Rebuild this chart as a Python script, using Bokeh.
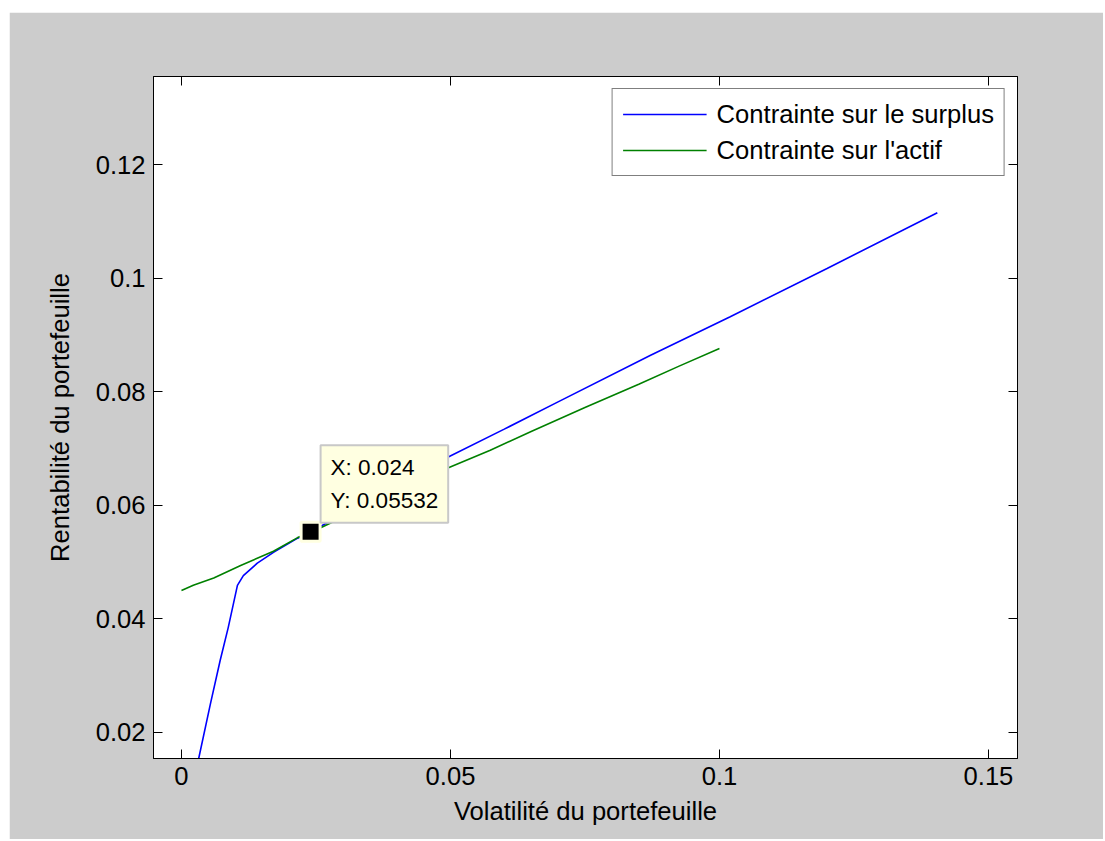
from bokeh.plotting import figure
from bokeh.models import (LinearAxis, FixedTicker, CustomJSTickFormatter, Legend,
                          LegendItem, Label, Range1d)
from bokeh.embed import file_html
from bokeh.resources import INLINE

# ---- data ----
surplus_x = [0.0019, 0.0032, 0.0054, 0.0072, 0.0087, 0.0104, 0.0115, 0.0141, 0.0171,
             0.0216, 0.024, 0.030, 0.035, 0.040, 0.0494, 0.060, 0.070, 0.0872, 0.102,
             0.120, 0.1405]
surplus_y = [0.0100, 0.0154, 0.0251, 0.0327, 0.0385, 0.0459, 0.0476, 0.0498, 0.0517,
             0.0542, 0.05532, 0.0584, 0.0610, 0.0636, 0.0684, 0.0734, 0.0782, 0.0864,
             0.0932, 0.1017, 0.1115]

actif_x = [0.0, 0.0022, 0.006, 0.011, 0.0171, 0.0216, 0.024, 0.030, 0.040, 0.0494,
           0.0574, 0.065, 0.075, 0.085, 0.0925, 0.1]
actif_y = [0.0450, 0.0459, 0.0472, 0.0494, 0.0519, 0.0543, 0.0552, 0.0579, 0.0623,
           0.0665, 0.0697, 0.0730, 0.0772, 0.0813, 0.0845, 0.0876]

series_labels = ["Contrainte sur le surplus", "Contrainte sur l'actif"]
x_ticks = [0, 0.05, 0.1, 0.15]
y_ticks = [0.02, 0.04, 0.06, 0.08, 0.1, 0.12]
tip_x = 0.024
tip_y = 0.05532
x_title = "Volatilité du portefeuille"
y_title = "Rentabilité du portefeuille"

FONT = "Liberation Sans"
FS = "25.6px"
GRAY = "#cccccc"

p = figure(frame_width=864, frame_height=682,
           x_range=Range1d(-0.0052, 0.1554), y_range=Range1d(0.0154, 0.1355),
           output_backend="svg", toolbar_location=None,
           min_border_left=144, min_border_top=64, min_border_right=86,
           min_border_bottom=81,
           background_fill_color="white", border_fill_color=GRAY,
           outline_line_color="black", outline_line_width=1)
p.margin = (12, 0, 0, 9)

p.xgrid.visible = False
p.ygrid.visible = False

fmt = CustomJSTickFormatter(code="return tick.toString();")
blank = CustomJSTickFormatter(code="return '';")


def style_axis(ax, ticks, formatter):
    ax.ticker = FixedTicker(ticks=ticks)
    ax.formatter = formatter
    ax.major_tick_in = 9
    ax.major_tick_out = 0
    ax.minor_tick_in = 0
    ax.minor_tick_out = 0
    ax.axis_line_color = "black"
    ax.major_tick_line_color = "black"
    ax.major_label_text_font = FONT
    ax.major_label_text_font_size = FS
    ax.major_label_text_color = "black"
    ax.axis_label_text_font = FONT
    ax.axis_label_text_font_size = FS
    ax.axis_label_text_font_style = "normal"
    ax.axis_label_text_color = "black"


xa = p.xaxis[0]
ya = p.yaxis[0]
style_axis(xa, x_ticks, fmt)
style_axis(ya, y_ticks, fmt)
xa.axis_label = x_title
ya.axis_label = y_title
xa.major_label_standoff = 8
ya.major_label_standoff = 8
xa.axis_label_standoff = 9
ya.axis_label_standoff = 19

top_ax = LinearAxis()
style_axis(top_ax, x_ticks, blank)
top_ax.major_label_text_font_size = "1px"
right_ax = LinearAxis()
style_axis(right_ax, y_ticks, blank)
right_ax.major_label_text_font_size = "1px"
p.add_layout(top_ax, "above")
p.add_layout(right_ax, "right")

r1 = p.line(surplus_x, surplus_y, line_color="#0000ff", line_width=1.6)
r2 = p.line(actif_x, actif_y, line_color="#008000", line_width=1.6)

legend = Legend(items=[LegendItem(label=series_labels[0], renderers=[r1]),
                       LegendItem(label=series_labels[1], renderers=[r2])],
                location="top_right", margin=12, padding=10, spacing=6,
                glyph_width=84, glyph_height=30, label_height=30, label_standoff=10,
                label_text_font=FONT, label_text_font_size=FS, label_text_color="black",
                border_line_color="black", border_line_width=1,
                background_fill_color="white", background_fill_alpha=1.0)
p.add_layout(legend)

# data cursor marker + tip
p.scatter([tip_x], [tip_y], marker="square", size=19, fill_color="black",
          line_color="#ffffe1", line_width=3)

tip = Label(x=tip_x, y=tip_y, x_offset=10, y_offset=9, anchor="bottom_left",
            text=f"X: {tip_x}\nY: {tip_y}", text_font=FONT, text_font_size="22.5px",
            text_color="black", text_line_height=1.3,
            background_fill_color="#ffffe1", border_line_color="#c8c8c8",
            border_line_width=2, padding=10)
p.add_layout(tip)

open("out.html", "w").write(file_html(p, INLINE))
